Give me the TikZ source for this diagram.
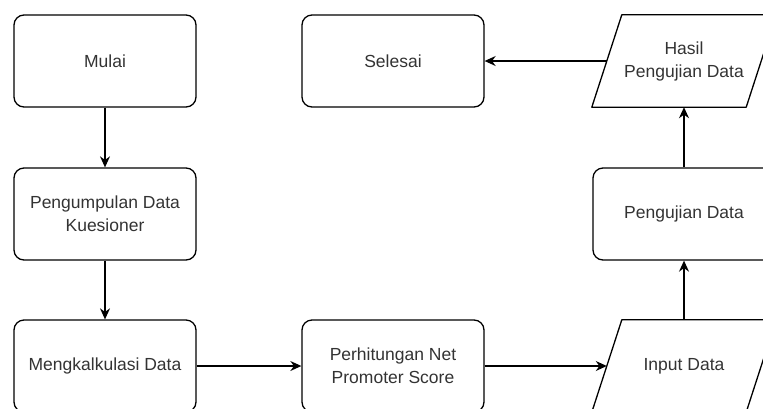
\documentclass[tikz,border=0pt]{standalone}
\usepackage{fontspec}
\setmainfont{Liberation Sans}
\usepackage{tikz}
\usetikzlibrary{arrows.meta}
\tikzset{
    garis/.style={line width=1.3pt, line join=round}, % garis tepi
    proses/.style={draw, garis, rounded corners=10pt, minimum width=182pt, minimum height=92pt, align=center}, % kotak proses
    datablok/.style={minimum width=154pt, minimum height=92pt, align=center}, % isi kotak input/output
    panah/.style={-{Stealth[length=11pt, width=10pt]}, garis} % gaya panah
}
\newcommand{\jajargenjang}[1]{% bingkai miring untuk node #1
    \draw[garis] ([xshift=-15pt]#1.south west) -- ([xshift=15pt]#1.north west) -- ([xshift=15pt]#1.north east) -- ([xshift=-15pt]#1.south east) -- cycle;}

\begin{document}
\begin{tikzpicture}[x=1pt, y=-1pt, font=\fontsize{17.5}{23}\selectfont, text=black!80]
    \useasboundingbox (0,0) rectangle (763,408);
    \clip (0,0) rectangle (763,408);

    \node[proses] (mulai) at (105,61) {Mulai};
    \node[proses] (kumpul) at (105,214) {Pengumpulan Data\\Kuesioner};
    \node[proses] (kalkulasi) at (105,366) {Mengkalkulasi Data};
    \node[proses] (nps) at (393,366) {Perhitungan Net\\Promoter Score};
    \node[datablok] (input) at (684,366) {Input Data};
    \node[proses] (uji) at (684,214) {Pengujian Data};
    \node[datablok] (hasil) at (684,61) {Hasil\\Pengujian Data};
    \node[proses] (selesai) at (393,61) {Selesai};
    \jajargenjang{input}
    \jajargenjang{hasil}

    \draw[panah] (mulai) -- (kumpul);
    \draw[panah] (kumpul) -- (kalkulasi);
    \draw[panah] (kalkulasi) -- (nps);
    \draw[panah] (nps) -- (input.west);
    \draw[panah] (input.north) -- (uji);
    \draw[panah] (uji) -- (hasil.south);
    \draw[panah] (hasil.west) -- (selesai);
\end{tikzpicture}
\end{document}
